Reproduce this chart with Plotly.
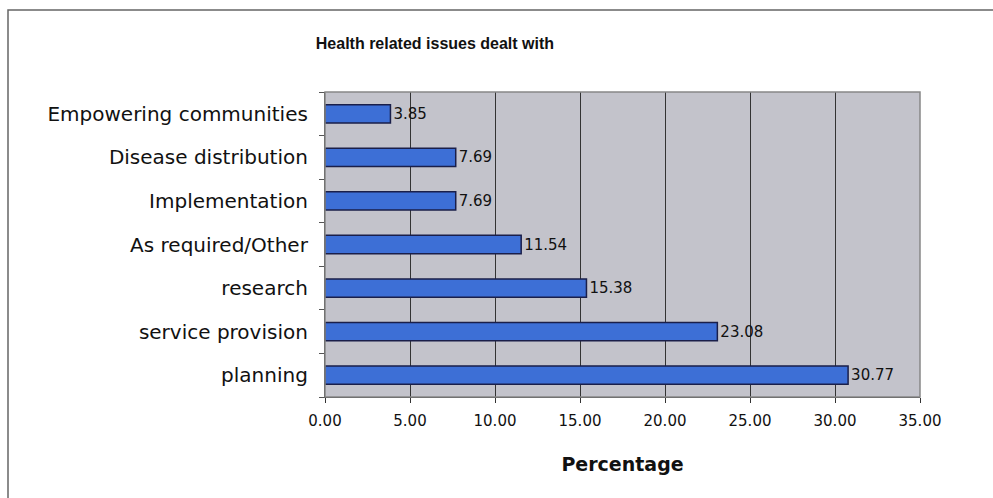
import plotly.graph_objects as go

categories = ["planning", "service provision", "research", "As required/Other",
              "Implementation", "Disease distribution", "Empowering communities"]
values = [30.77, 23.08, 15.38, 11.54, 7.69, 7.69, 3.85]
x_ticks = [0, 5, 10, 15, 20, 25, 30, 35]

FONT = "Liberation Sans"
WIDE = "DejaVu Sans"

fig = go.Figure(go.Bar(
    y=categories, x=values, orientation="h",
    marker=dict(color="#3d6fd6", line=dict(color="#1a1f4a", width=1.5)),
    width=0.42,
    text=[f"{v:.2f}" for v in values], textposition="outside",
    textfont=dict(family=WIDE, size=15, color="#111"),
    cliponaxis=False,
))

fig.update_layout(
    width=993, height=498,
    margin=dict(l=325, r=73, t=92, b=101),
    paper_bgcolor="white", plot_bgcolor="#c3c3cb",
    showlegend=False,
    title=dict(text="<b>Health related issues dealt with</b>", x=0.438, xanchor="center",
               y=1 - 43 / 498, yanchor="middle", xref="container", yref="container",
               font=dict(family=FONT, size=16, color="#111")),
    xaxis=dict(range=[0, 35], tickvals=x_ticks, tickformat=".2f",
               showgrid=True, gridcolor="#333", gridwidth=1.2,
               showline=True, linecolor="#333", linewidth=1.2,
               ticks="outside", ticklen=5, tickcolor="#333",
               ticklabelstandoff=5,
               tickfont=dict(family=WIDE, size=15, color="#111"),
               title=dict(text="<b>Percentage</b>", standoff=28,
                          font=dict(family=WIDE, size=19, color="#111")),
               zeroline=False),
    yaxis=dict(categoryorder="array", categoryarray=categories,
               showline=True, linecolor="#333", linewidth=1.2,
               ticks="outside", ticklen=5, tickcolor="#555", tickson="boundaries",
               ticklabelstandoff=12,
               tickfont=dict(family=WIDE, size=20, color="#111"),
               showgrid=False),
    shapes=[
        dict(type="rect", xref="paper", yref="paper", x0=0, x1=1, y0=0, y1=1,
             line=dict(color="#888", width=1.5), fillcolor="rgba(0,0,0,0)"),
        dict(type="rect", xref="paper", yref="paper",
             x0=-317 / 595, x1=(1000 - 325) / 595,
             y0=-(505 - 397) / 305, y1=(92 - 10) / 305 + 1,
             line=dict(color="#666", width=1.5), fillcolor="rgba(0,0,0,0)"),
    ],
)

fig.write_html("out.html")
